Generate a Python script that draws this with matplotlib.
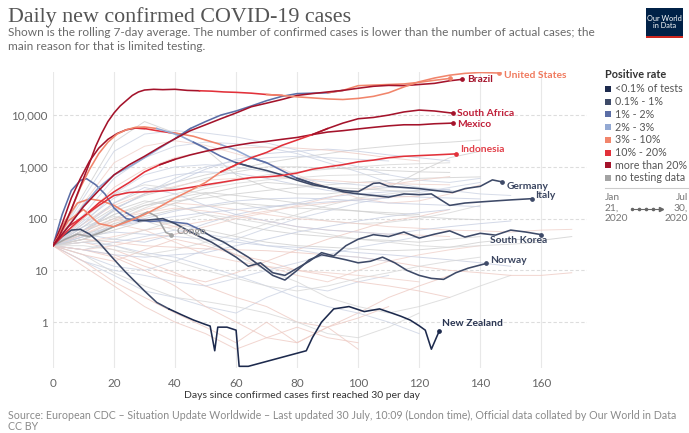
import numpy as np
import matplotlib
matplotlib.use("Agg")
import matplotlib.pyplot as plt
from matplotlib.patches import Rectangle
from matplotlib.lines import Line2D
from matplotlib.ticker import NullLocator

plt.rcParams['font.family'] = ['Lato', 'DejaVu Sans']

# ---------------- data ----------------
title = "Daily new confirmed COVID-19 cases"
subtitle1 = "Shown is the rolling 7-day average. The number of confirmed cases is lower than the number of actual cases; the"
subtitle2 = "main reason for that is limited testing."
source = ("Source: European CDC – Situation Update Worldwide – Last updated 30 July, 10:09 (London time), "
          "Official data collated by Our World in Data")
xlabel = "Days since confirmed cases first reached 30 per day"

x_ticks = [0, 20, 40, 60, 80, 100, 120, 140, 160]
y_ticks = [1, 10, 100, 1000, 10000]
y_ticklabels = ["1", "10", "100", "1,000", "10,000"]

legend_title = "Positive rate"
legend_keys = ["lt01", "r01_1", "r1_2", "r2_3", "r3_10", "r10_20", "gt20", "none"]
legend_labels = ["<0.1% of tests", "0.1% - 1%", "1% - 2%", "2% - 3%", "3% - 10%",
                 "10% - 20%", "more than 20%", "no testing data"]

us_days = [0,2,4,6,8,10,12,14,16,18,20,22,24,26,28,30,33,36,40,44,48,52,56,60,65,70,75,80,85,90,95,100,105,110,115,120,125,130,135,140,146]
us_vals = [30,45,80,150,300,600,1200,2500,4500,7500,11000,15000,19000,24000,28000,30500,31500,31000,31500,30000,29500,29000,28000,27500,26500,25000,24000,22500,21500,20500,20000,21000,23000,27000,35000,44000,52000,59000,64000,66500,65000]

brazil_days = [0,5,10,15,20,25,30,35,40,45,50,55,60,65,70,75,80,85,90,95,100,105,110,115,120,125,130,134]
brazil_vals = [30,70,170,350,700,1100,1600,2400,3500,5000,6500,8500,11000,14500,17000,20000,24000,26000,28000,30000,33000,36000,37500,37000,39000,41000,46000,49000]

india_days = [0,5,10,15,20,25,30,35,40,45,50,55,60,65,70,75,80,85,90,95,100,105,110,115,120,125,130]
india_vals = [30,70,180,400,700,1000,1500,2300,3500,5500,7500,10000,12000,15000,19000,23000,26000,26500,27000,30000,37000,38000,39000,40000,43000,47000,51000]

sa_days = [0,5,10,15,20,25,30,35,40,45,50,55,60,65,70,75,80,85,90,95,100,105,110,115,120,125,131]
sa_vals = [30,90,150,80,70,90,120,170,250,350,500,800,1100,1500,1900,2600,3300,4200,5500,7000,8500,9000,10000,11500,12500,12000,10900]

mexico_days = [0,5,10,15,20,25,30,35,40,45,50,55,60,65,70,75,80,85,90,95,100,105,110,115,120,125,131]
mexico_vals = [30,60,110,200,330,500,800,1100,1400,1700,2000,2300,2600,2900,3100,3400,3700,4200,4700,5000,5400,5800,6200,6500,6500,6800,7000]

indonesia_days = [0,5,10,15,20,25,30,35,40,45,50,55,60,65,70,75,80,85,90,95,100,105,110,115,120,125,132]
indonesia_vals = [30,70,110,180,280,320,330,340,360,400,450,500,560,620,640,680,760,900,1000,1100,1250,1350,1500,1600,1650,1700,1780]

germany_days = [0,3,6,9,12,15,18,21,24,27,30,34,38,42,46,50,55,60,65,70,75,80,85,90,95,100,105,107,110,115,120,125,131,135,140,144,147]
germany_vals = [30,60,150,400,900,1800,3000,4300,5200,5800,5900,5500,4700,3900,3000,2300,1600,1200,1000,850,700,550,450,400,350,330,480,490,420,400,380,350,320,380,420,560,515]

italy_days = [0,3,6,9,12,15,18,21,24,27,30,34,38,42,46,50,55,60,65,70,75,80,85,90,95,100,105,110,115,120,124,130,135,140,145,150,157]
italy_vals = [30,80,250,600,1300,2300,3400,4400,5200,5600,5500,5000,4600,4300,3900,3300,2700,2100,1500,1200,850,600,480,400,330,300,280,260,300,290,300,180,200,210,220,230,243]

korea_days = [0,3,6,9,11,14,17,20,24,28,32,36,40,44,48,52,56,60,64,68,72,76,80,84,88,92,96,100,105,110,115,120,125,130,135,140,145,150,155,160]
korea_vals = [30,120,350,550,590,450,300,160,100,90,95,100,80,60,45,35,25,18,12,14,9,8,11,15,22,19,30,40,49,45,55,42,50,58,44,52,48,60,55,49]

norway_days = [0,4,8,12,16,20,24,28,32,36,40,44,48,52,56,60,64,68,72,76,80,84,88,92,96,100,104,108,112,116,120,124,128,132,136,142]
norway_vals = [30,90,200,240,220,180,130,95,88,92,85,80,62,45,35,25,18,12,8,6.5,10,16,20,18,16,14,15,18,14,10,8,7,6.7,9,11,13.6]

nz_days = [0,3,6,9,12,15,18,21,24,27,30,34,38,42,46,50,51.5,53,54,57,60,61,64,83,85,88,92,97,102,107,111,114,117,120,122,124,126.6]
nz_vals = [30,45,60,62,50,35,22,14,9,6,4,2.4,1.8,1.4,1.1,0.9,0.84,0.28,0.8,0.8,0.7,0.14,0.14,0.28,0.5,1.0,1.8,2.0,1.6,1.8,1.5,1.3,1.1,0.85,0.7,0.3,0.68]

congo_days = [0,4,8,12,16,20,24,28,31,34,37,38.7]
congo_vals = [30,40,50,45,55,70,90,110,135,110,54,49]

# background (non-highlighted) countries, sampled every 10 days
bg_days = [0,10,20,30,40,50,60,70,80,90,100,110,120,130,140,150,160,170]
nan = np.nan
bg_lines = [
    [30,80,200,350,500,700,900,1200,1500,1800,2200,2500,2800,3000,3300,nan,nan,nan],
    [30,120,600,1500,2500,3000,2800,2400,1800,1200,800,500,400,350,300,280,nan,nan],
    [30,200,1200,2500,3200,2600,1800,1200,700,400,250,200,220,300,450,nan,nan,nan],
    [30,60,120,200,300,420,550,700,800,900,1000,1100,1150,1200,nan,nan,nan,nan],
    [30,50,40,35,50,80,120,160,200,260,300,330,350,370,nan,nan,nan,nan],
    [30,25,20,12,8,6,9,15,25,40,60,90,110,150,nan,nan,nan,nan],
    [30,40,70,110,150,170,200,180,160,150,140,130,120,nan,nan,nan,nan,nan],
    [30,15,8,4,3,2,1.5,3,5,4,6,8,nan,nan,nan,nan,nan,nan],
    [30,60,90,100,70,40,20,12,8,6,10,15,20,25,30,nan,nan,nan],
    [30,100,300,450,380,300,200,150,110,90,80,85,100,130,180,nan,nan,nan],
    [30,45,55,50,45,40,35,30,28,25,22,20,18,16,14,12,nan,nan],
    [30,35,25,15,9,5,3,2,1,0.8,1.5,3,5,8,nan,nan,nan,nan],
    [30,70,160,280,400,600,800,1000,1000,950,900,850,800,780,nan,nan,nan,nan],
    [30,20,12,10,15,25,40,65,100,140,200,260,320,400,500,nan,nan,nan],
    [30,50,80,60,35,20,15,12,10,9,8,7,6,nan,nan,nan,nan,nan],
    [30,40,30,20,25,35,50,80,120,180,250,300,350,nan,nan,nan,nan,nan],
    [30,90,250,500,700,800,750,600,450,350,300,280,260,250,240,nan,nan,nan],
    [30,25,18,10,5,2,1,0.5,0.4,0.8,1.2,2,nan,nan,nan,nan,nan,nan],
    [30,60,120,180,220,250,300,350,400,450,500,550,600,620,640,nan,nan,nan],
    [30,15,10,8,6,5,7,10,14,20,28,35,45,nan,nan,nan,nan,nan],
    [30,35,45,60,70,90,110,140,170,200,230,260,270,nan,nan,nan,nan,nan],
    [30,70,110,90,60,35,20,10,6,3,2,1.5,2,3,5,8,nan,nan],
    [30,50,150,300,500,900,1400,1800,2000,2200,2000,1700,1500,1300,nan,nan,nan,nan],
    [30,40,35,30,28,26,25,24,22,20,18,15,12,10,9,8,8,9],
    [30,60,140,220,180,120,80,60,50,45,40,38,35,40,45,nan,nan,nan],
    [30,25,35,45,60,50,40,30,25,20,18,15,nan,nan,nan,nan,nan,nan],
    [30,80,180,300,420,550,600,650,600,550,500,480,460,450,nan,nan,nan,nan],
    [30,20,9,5,3,2.5,2,1.5,1,0.6,0.5,0.8,1.5,nan,nan,nan,nan,nan],
    [30,50,70,100,140,180,220,240,250,240,220,200,190,180,170,nan,nan,nan],
    [30,100,400,900,1500,2000,2300,2400,2300,2100,1800,1500,1300,nan,nan,nan,nan,nan],
    [30,40,60,90,80,60,45,35,30,28,26,24,25,28,35,40,38,45],
    [30,35,30,22,18,12,8,5,3,2,1.5,1,0.6,nan,nan,nan,nan,nan],
    [30,60,100,130,160,140,110,90,70,60,55,50,48,45,nan,nan,nan,nan],
    [30,45,90,160,260,380,480,560,620,680,700,720,nan,nan,nan,nan,nan,nan],
    [30,25,20,18,20,22,30,40,55,70,90,110,130,150,nan,nan,nan,nan],
    [30,15,6,3,1.5,0.8,0.4,1,0.4,0.8,0.3,nan,nan,nan,nan,nan,nan,nan],
    [30,300,3000,7500,4500,2200,700,400,300,300,350,400,800,1500,2000,nan,nan,nan],
    [30,250,2000,4300,5000,4500,3800,2900,2100,1400,1000,700,550,500,600,nan,nan,nan],
    [30,50,90,150,200,180,150,120,100,90,80,70,65,60,58,55,60,62],
    [30,35,40,60,90,120,100,80,60,50,40,35,30,28,30,32,35,nan],
    [30,70,200,400,300,180,120,90,70,60,55,50,60,70,80,90,nan,nan],
    [30,20,15,25,40,30,20,15,10,8,6,5,4,3,nan,nan,nan,nan],
    [30,40,80,120,200,300,400,500,450,400,380,350,330,nan,nan,nan,nan,nan],
    [30,60,150,300,600,1000,1300,1500,1600,1500,1400,1300,nan,nan,nan,nan,nan,nan],
    [30,25,30,40,50,70,100,130,180,250,350,450,550,650,nan,nan,nan,nan],
    [30,30,25,20,15,10,7,5,4,5,7,9,12,15,18,nan,nan,nan],
    [30,45,70,90,110,130,150,170,190,210,230,250,nan,nan,nan,nan,nan,nan],
    [30,12,5,2,1,0.6,0.3,0.5,0.8,0.5,0.4,nan,nan,nan,nan,nan,nan,nan],
    [30,55,100,180,250,320,280,240,200,160,140,120,110,100,95,nan,nan,nan],
    [30,80,300,700,1000,1100,1000,800,600,500,450,400,380,360,nan,nan,nan,nan],
]

# ---------------- styles ----------------
C = {
    "lt01": "#1d2a4d", "r01_1": "#3e4a68", "r1_2": "#5b6ea6", "r2_3": "#93a9d3",
    "r3_10": "#f1856b", "r10_20": "#e2313a", "gt20": "#a4132b", "none": "#a3a3a3",
}
bg_cols = ["#d0d0d0", "#cdd4e4", "#f0d2cb", "#d8d8d8", "#c8cfe2", "#eecbc4"]

W, H = 689, 433
fig = plt.figure(figsize=(W / 100, H / 100), dpi=100)
L, R, T, B = 53, 587, 72, 368
ax = fig.add_axes([L / W, 1 - B / H, (R - L) / W, (B - T) / H])
ax.set_yscale("log")
ax.set_ylim(0.13, 68000)
ax.set_xlim(0, 175)
ax.yaxis.set_minor_locator(NullLocator())
ax.set_yticks(y_ticks)
ax.set_yticklabels(y_ticklabels)
ax.set_xticks(x_ticks)
ax.tick_params(axis="both", length=0, labelsize=8.4, colors="#666")
ax.tick_params(axis="x", pad=7)
ax.tick_params(axis="y", pad=4)
for s in ax.spines.values():
    s.set_visible(False)
ax.yaxis.grid(True, color="#dddddd", lw=0.8, ls=(0, (3, 2)))
ax.xaxis.grid(True, color="#e8e8e8", lw=0.8)
ax.set_axisbelow(True)

# background lines
for i, vals in enumerate(bg_lines):
    ax.plot(bg_days, vals, color=bg_cols[i % len(bg_cols)], lw=0.7, alpha=0.8, zorder=1)


def draw(days, vals, stops, lw=1.15, z=3):
    days = np.asarray(days, float)
    vals = np.asarray(vals, float)
    bounds = [s[0] for s in stops] + [np.inf]
    for i, (s, key) in enumerate(stops):
        e = bounds[i + 1]
        idx = np.where((days >= s) & (days <= e))[0]
        if len(idx) == 0:
            continue
        lo = max(idx[0] - 1, 0) if i > 0 else idx[0]
        hi = idx[-1]
        ax.plot(days[lo:hi + 1], vals[lo:hi + 1], color=C[key], lw=lw,
                solid_joinstyle="round", zorder=z)
    return days[-1], vals[-1], C[stops[-1][1]]


series = [
    (congo_days, congo_vals, [(0, "none")], "Congo", "#9a9a9a", (6, 3), "left"),
    (nz_days, nz_vals, [(0, "r01_1"), (40, "lt01")], "New Zealand", "#2a3552", (3, 7), "left"),
    (norway_days, norway_vals, [(0, "r3_10"), (25, "r1_2"), (50, "r01_1")], "Norway", "#3a4560", (4, 3), "left"),
    (korea_days, korea_vals, [(0, "r1_2"), (30, "r01_1")], "South Korea", "#3a4560", (6, -6), "right"),
    (italy_days, italy_vals, [(0, "gt20"), (30, "r10_20"), (42, "r3_10"), (58, "r2_3"), (70, "r1_2"), (85, "r01_1")], "Italy", "#3a4560", (3, 3), "left"),
    (germany_days, germany_vals, [(0, "r3_10"), (35, "r2_3"), (50, "r1_2"), (65, "r01_1")], "Germany", "#3a4560", (5, -5), "left"),
    (indonesia_days, indonesia_vals, [(0, "r10_20")], "Indonesia", "#e2404a", (4, 4), "left"),
    (india_days, india_vals, [(0, "r2_3"), (45, "r1_2"), (95, "r3_10")], None, None, None, None),
    (mexico_days, mexico_vals, [(0, "r10_20"), (40, "gt20")], "Mexico", "#c0203a", (4, -1), "left"),
    (sa_days, sa_vals, [(0, "r3_10"), (60, "r10_20"), (90, "gt20")], "South Africa", "#c0203a", (4, 0), "left"),
    (brazil_days, brazil_vals, [(0, "gt20")], "Brazil", "#a4132b", (5, 0), "left"),
    (us_days, us_vals, [(0, "gt20"), (50, "r10_20"), (75, "r3_10")], "United States", "#f07a5e", (5, -2), "left"),
]

for days, vals, stops, lab, lcol, off, ha in series:
    xe, ye, ce = draw(days, vals, stops)
    ax.plot([xe], [ye], "o", ms=2.4, color=ce, zorder=4)
    if lab:
        ax.annotate(lab, (xe, ye), xytext=(off[0] * 0.72, off[1] * 0.72), textcoords="offset points",
                    ha=ha, va="center", fontsize=7.4, fontweight="bold", color=lcol, zorder=5)

# ---------------- texts ----------------
def fy(y):
    return 1 - y / H

fig.text(8 / W, fy(17), title, fontsize=15.8, family=["Liberation Serif", "DejaVu Serif"],
         color="#555555", va="center")
fig.text(8 / W, fy(33), subtitle1, fontsize=8.6, color="#6a6a6a", va="center")
fig.text(8 / W, fy(46), subtitle2, fontsize=8.6, color="#6a6a6a", va="center")
fig.text(302 / W, fy(396), xlabel, fontsize=7.5, color="#333333", va="center", ha="center")
fig.text(8 / W, fy(415), source, fontsize=7.7, color="#8a8a8a", va="center")
fig.text(8 / W, fy(426), "CC BY", fontsize=7.7, color="#8a8a8a", va="center")

# OWID logo
fig.patches.append(Rectangle((646 / W, fy(38)), 37 / W, 30 / H, transform=fig.transFigure,
                             facecolor="#002147", edgecolor="none"))
fig.patches.append(Rectangle((646 / W, fy(38)), 37 / W, 2.2 / H, transform=fig.transFigure,
                             facecolor="#ce261e", edgecolor="none"))
fig.text(664.5 / W, fy(22), "Our World\nin Data", fontsize=5.3, color="white", ha="center",
         va="center", linespacing=1.0)

# legend
fig.text(605 / W, fy(75), legend_title, fontsize=7.8, fontweight="bold", color="#333333", va="center")
for i, (k, lab) in enumerate(zip(legend_keys, legend_labels)):
    yy = 89 + i * 12.7
    fig.patches.append(Rectangle((605 / W, fy(yy + 3)), 6 / W, 6 / H, transform=fig.transFigure,
                                 facecolor=C[k], edgecolor="none"))
    fig.text(615 / W, fy(yy), lab, fontsize=7.7, color="#555555", va="center")
fig.lines.append(Line2D([605 / W, 688 / W], [fy(188), fy(188)], transform=fig.transFigure,
                        color="#cccccc", lw=0.8))
fig.text(605 / W, fy(208), "Jan\n21,\n2020", fontsize=7.4, color="#777777", va="center",
         ha="left", linespacing=1.15)
fig.text(688 / W, fy(208), "Jul\n30,\n2020", fontsize=7.4, color="#777777", va="center",
         ha="right", linespacing=1.15)
fig.lines.append(Line2D([632 / W, 660 / W], [fy(209), fy(209)], transform=fig.transFigure,
                        color="#666666", lw=0.8, marker="o", markersize=1.5,
                        markevery=[0]))
for xx in [639, 646, 653]:
    fig.lines.append(Line2D([xx / W], [fy(209)], transform=fig.transFigure, color="#666666",
                            marker="o", markersize=1.6, lw=0))
fig.lines.append(Line2D([661 / W], [fy(209)], transform=fig.transFigure, color="#666666",
                        marker=">", markersize=3, lw=0))

fig.savefig("out.png", dpi=100)
